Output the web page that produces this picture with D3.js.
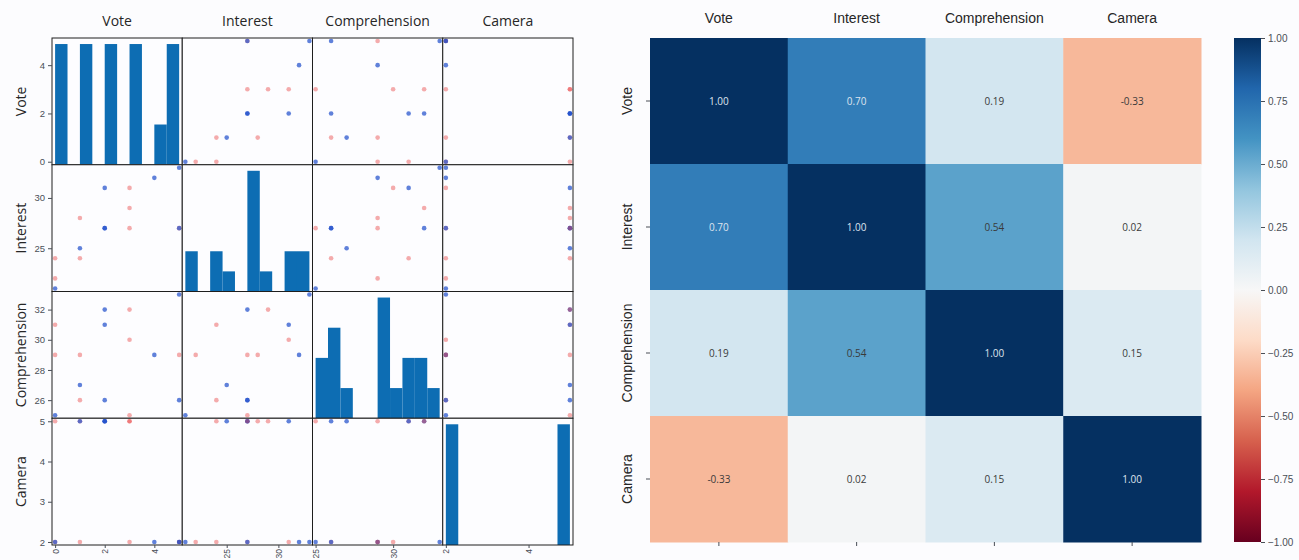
<!DOCTYPE html>
<html>
<head>
<meta charset="utf-8">
<script src="https://cdn.jsdelivr.net/npm/d3@7"></script>
<style>
  html, body { margin: 0; padding: 0; background: #fcfcfe; }
  svg { display: block; font-family: "Open Sans", "Noto Sans", sans-serif; }
</style>
</head>
<body>
<svg id="chart" width="1299" height="560"></svg>
<script>
// Survey records: one entry per respondent
const columns = ["Vote", "Interest", "Comprehension", "Camera"];
const vote          = [0, 0, 0, 1, 1, 1, 2, 2, 2, 3, 3, 3, 4, 5, 5, 5];
const interest      = [24, 22, 21, 28, 24, 25, 31, 27, 27, 29, 31, 27, 32, 33, 27, 27];
const comprehension = [31, 29, 25, 29, 26, 27, 31, 32, 26, 32, 30, 25, 29, 33, 29, 26];
const camera        = [5, 2, 2, 5, 2, 5, 5, 5, 5, 5, 2, 5, 2, 2, 2, 2];
const group         = [0, 0, 1, 0, 0, 1, 1, 1, 1, 0, 0, 0, 1, 1, 0, 1];

// Tick values per variable for the scatter matrix
const yTicks = { Vote: [0, 2, 4], Interest: [25, 30], Comprehension: [26, 28, 30, 32], Camera: [2, 3, 4, 5] };
const xTicks = { Vote: [0, 2, 4], Interest: [25, 30], Comprehension: [25, 30], Camera: [2, 4] };

// Pairwise correlation coefficients
const corr = [
  [1.00, 0.70, 0.19, -0.33],
  [0.70, 1.00, 0.54, 0.02],
  [0.19, 0.54, 1.00, 0.15],
  [-0.33, 0.02, 0.15, 1.00]
];
const colorbarTicks = [-1, -0.75, -0.5, -0.25, 0, 0.25, 0.5, 0.75, 1];

// Diverging red-blue palette stops (from -1 to +1)
const rdbuStops = ["#67001f", "#b2182b", "#d6604d", "#f4a582", "#fddbc7", "#f7f7f7",
                   "#d1e5f0", "#92c5de", "#4393c3", "#2166ac", "#053061"];

const values = { Vote: vote, Interest: interest, Comprehension: comprehension, Camera: camera };
const groupColors = ["#e83a3a", "#2350cc"];
const groupOpacity = [0.42, 0.72];
const histColor = "#0d6db3";

const svg = d3.select("#chart");
const textColor = "#262626";
const tickColor = "#4a4f57";

// ---------- Scatter matrix ----------
const sm = { left: 52, top: 38, right: 573, bottom: 545 };
const n = columns.length;
const cw = (sm.right - sm.left) / n;
const ch = (sm.bottom - sm.top) / n;

// Padded ranges (5% of span split on both sides)
const scales = {};
columns.forEach(c => {
  const [lo, hi] = d3.extent(values[c]);
  const pad = (hi - lo) * 0.025;
  scales[c] = [lo - pad, hi + pad];
});

const matrix = svg.append("g");

columns.forEach((rowVar, i) => {
  columns.forEach((colVar, j) => {
    const x0 = sm.left + j * cw, y0 = sm.top + i * ch;
    const g = matrix.append("g").attr("transform", `translate(${x0},${y0})`);
    const x = d3.scaleLinear().domain(scales[colVar]).range([0, cw]);
    const y = d3.scaleLinear().domain(scales[rowVar]).range([ch, 0]);

    g.append("rect").attr("width", cw).attr("height", ch).attr("fill", "#fdfdff");

    if (i === j) {
      const [lo, hi] = d3.extent(values[colVar]);
      const thresholds = d3.range(1, 10).map(k => lo + (hi - lo) * k / 10);
      const bins = d3.bin().domain([lo, hi]).thresholds(thresholds)(values[colVar]);
      const maxCount = d3.max(bins, b => b.length);
      const hy = d3.scaleLinear().domain([0, maxCount * 1.05]).range([ch, 0]);
      g.selectAll("rect.bar").data(bins.filter(b => b.length > 0)).join("rect")
        .attr("class", "bar")
        .attr("x", b => x(b.x0))
        .attr("width", b => x(b.x1) - x(b.x0))
        .attr("y", b => hy(b.length))
        .attr("height", b => ch - hy(b.length))
        .attr("fill", histColor);
    } else {
      const pts = d3.range(vote.length);
      g.selectAll("circle").data(pts).join("circle")
        .attr("cx", k => x(values[colVar][k]))
        .attr("cy", k => y(values[rowVar][k]))
        .attr("r", 2.3)
        .attr("fill", k => groupColors[group[k]])
        .attr("fill-opacity", k => groupOpacity[group[k]]);
    }

    g.append("rect").attr("width", cw).attr("height", ch)
      .attr("fill", "none").attr("stroke", "#1e1e1e").attr("stroke-width", 1);

    if (j === 0) {
      const ax = g.append("g").call(d3.axisLeft(y).tickValues(yTicks[rowVar]).tickSize(4).tickPadding(3).tickFormat(d3.format("d")));
      ax.select(".domain").remove();
      ax.selectAll("text").attr("font-size", 9.5).attr("fill", tickColor);
      ax.selectAll("line").attr("stroke", tickColor);
      g.append("text")
        .attr("transform", `translate(-31,${ch / 2}) rotate(-90)`)
        .attr("text-anchor", "middle").attr("dy", "0.35em")
        .attr("font-size", 14).attr("fill", textColor)
        .text(rowVar);
    }
    if (i === n - 1) {
      const ax = g.append("g").attr("transform", `translate(0,${ch})`)
        .call(d3.axisBottom(x).tickValues(xTicks[colVar]).tickSize(3).tickFormat(d3.format("d")));
      ax.select(".domain").remove();
      ax.selectAll("line").attr("stroke", tickColor);
      ax.selectAll("text")
        .attr("font-size", 8.5).attr("fill", tickColor)
        .attr("transform", "rotate(-90)")
        .attr("text-anchor", "end")
        .attr("x", -4).attr("y", 0).attr("dy", "0.35em");
    }
    if (i === 0) {
      g.append("text")
        .attr("x", cw / 2).attr("y", -17)
        .attr("text-anchor", "middle").attr("dy", "0.35em")
        .attr("font-size", 14).attr("fill", textColor)
        .text(colVar);
    }
  });
});

// ---------- Correlation heatmap ----------
const hm = { left: 650, top: 38, right: 1201, bottom: 542 };
const hx = d3.scaleBand().domain(columns).range([hm.left, hm.right]);
const hy = d3.scaleBand().domain(columns).range([hm.top, hm.bottom]);
const color = d3.scaleLinear()
  .domain(d3.range(rdbuStops.length).map(k => -1 + 2 * k / (rdbuStops.length - 1)))
  .range(rdbuStops)
  .interpolate(d3.interpolateRgb);
const annot = v => v.toFixed(2);

const cells = [];
columns.forEach((r, i) => columns.forEach((c, j) => cells.push({ r, c, v: corr[i][j] })));

const heat = svg.append("g");
heat.selectAll("rect").data(cells).join("rect")
  .attr("x", d => hx(d.c)).attr("y", d => hy(d.r))
  .attr("width", hx.bandwidth() + 0.5).attr("height", hy.bandwidth() + 0.5)
  .attr("fill", d => color(d.v));

heat.selectAll("text").data(cells).join("text")
  .attr("x", d => hx(d.c) + hx.bandwidth() / 2)
  .attr("y", d => hy(d.r) + hy.bandwidth() / 2)
  .attr("text-anchor", "middle").attr("dy", "0.35em")
  .attr("font-size", 10)
  .attr("fill", d => d3.lab(color(d.v)).l < 55 ? "#dfe4ee" : "#3a3a3a")
  .text(d => annot(d.v));

// Column names along the top
const topAxis = svg.append("g").attr("transform", `translate(0,${hm.top})`)
  .call(d3.axisTop(hx).tickSize(0).tickPadding(15));
topAxis.select(".domain").remove();
topAxis.selectAll("text").attr("font-size", 14).attr("fill", textColor);

// Tick marks along the bottom
const botAxis = svg.append("g").attr("transform", `translate(0,${hm.bottom})`)
  .call(d3.axisBottom(hx).tickSize(4).tickFormat(""));
botAxis.select(".domain").remove();
botAxis.selectAll("line").attr("stroke", tickColor);

// Row names on the left
const leftAxis = svg.append("g").attr("transform", `translate(${hm.left},0)`)
  .call(d3.axisLeft(hy).tickSize(4));
leftAxis.select(".domain").remove();
leftAxis.selectAll("line").attr("stroke", tickColor);
leftAxis.selectAll("text")
  .attr("font-size", 14).attr("fill", textColor)
  .attr("transform", "rotate(-90)")
  .attr("text-anchor", "middle")
  .attr("x", 0).attr("y", -18).attr("dy", "0");

// ---------- Colour bar ----------
const cb = { left: 1234, width: 27 };
const cbScale = d3.scaleLinear().domain([-1, 1]).range([hm.bottom, hm.top]);
const defs = svg.append("defs");
const grad = defs.append("linearGradient").attr("id", "rdbu")
  .attr("x1", 0).attr("y1", 1).attr("x2", 0).attr("y2", 0);
rdbuStops.forEach((c, k) => {
  grad.append("stop").attr("offset", k / (rdbuStops.length - 1)).attr("stop-color", c);
});
svg.append("rect")
  .attr("x", cb.left).attr("y", hm.top)
  .attr("width", cb.width).attr("height", hm.bottom - hm.top)
  .attr("fill", "url(#rdbu)");
const cbAxis = svg.append("g").attr("transform", `translate(${cb.left + cb.width},0)`)
  .call(d3.axisRight(cbScale).tickValues(colorbarTicks).tickSize(4).tickPadding(3).tickFormat(d3.format(".2f")));
cbAxis.select(".domain").remove();
cbAxis.selectAll("line").attr("stroke", tickColor);
cbAxis.selectAll("text").attr("font-size", 10).attr("fill", tickColor);
</script>
</body>
</html>
